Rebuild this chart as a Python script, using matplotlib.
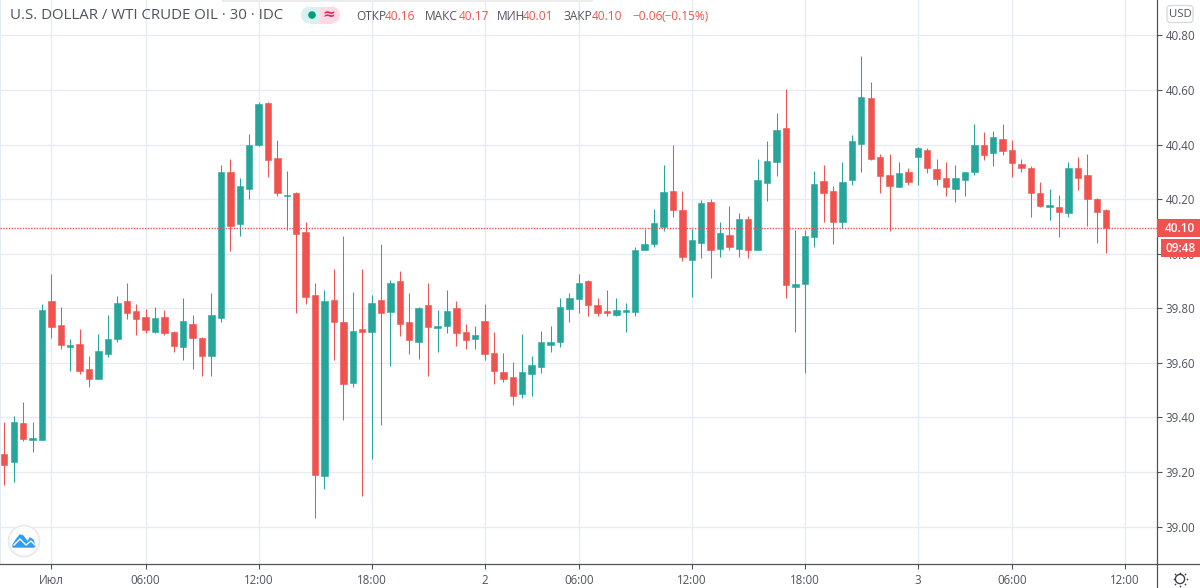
import matplotlib
matplotlib.use('Agg')
import matplotlib.pyplot as plt
from matplotlib.patches import Circle, FancyBboxPatch, Polygon, Rectangle, Wedge

plt.rcParams['font.family'] = ['Open Sans', 'DejaVu Sans']

opens = [39.266, 39.238, 39.379, 39.316, 39.316, 39.826, 39.740, 39.658, 39.669, 39.579,
         39.540, 39.633, 39.687, 39.826, 39.789, 39.768, 39.715, 39.768, 39.712, 39.658,
         39.743, 39.690, 39.626, 39.766, 40.301, 40.110, 40.238, 40.398, 40.551, 40.351,
         40.213, 40.222, 40.080, 39.850, 39.186, 39.830, 39.750, 39.527, 39.724, 39.715,
         39.830, 39.787, 39.900, 39.750, 39.677, 39.811, 39.727, 39.737, 39.801, 39.715,
         39.688, 39.754, 39.637, 39.568, 39.550, 39.486, 39.558, 39.586, 39.666, 39.677,
         39.798, 39.834, 39.900, 39.812, 39.790, 39.776, 39.788, 39.788, 40.012, 40.035,
         40.098, 40.229, 40.160, 39.977, 40.040, 40.189, 40.016, 40.068, 40.016, 40.129,
         40.012, 40.260, 40.338, 40.461, 39.877, 39.888, 40.060, 40.266, 40.230, 40.117,
         40.271, 40.403, 40.572, 40.355, 40.290, 40.246, 40.300, 40.353, 40.379, 40.311,
         40.277, 40.239, 40.271, 40.299, 40.400, 40.371, 40.422, 40.379, 40.329, 40.315,
         40.223, 40.171, 40.172, 40.149, 40.315, 40.287, 40.201, 40.161]
highs = [39.383, 39.406, 39.455, 39.383, 39.816, 39.926, 39.804, 39.687, 39.726, 39.626,
         39.705, 39.776, 39.845, 39.894, 39.816, 39.796, 39.804, 39.794, 39.716, 39.837,
         39.776, 39.694, 39.855, 40.325, 40.347, 40.277, 40.438, 40.556, 40.556, 40.416,
         40.305, 40.227, 40.117, 39.893, 39.866, 39.944, 40.066, 39.861, 39.944, 39.850,
         40.037, 39.905, 39.938, 39.855, 39.805, 39.893, 39.794, 39.866, 39.827, 39.743,
         39.737, 39.816, 39.712, 39.637, 39.604, 39.705, 39.626, 39.716, 39.737, 39.837,
         39.855, 39.926, 39.904, 39.837, 39.866, 39.837, 39.818, 40.026, 40.092, 40.165,
         40.325, 40.398, 40.229, 40.092, 40.197, 40.200, 40.118, 40.175, 40.148, 40.137,
         40.347, 40.415, 40.516, 40.605, 40.088, 40.088, 40.305, 40.326, 40.249, 40.337,
         40.437, 40.726, 40.629, 40.366, 40.366, 40.337, 40.315, 40.390, 40.387, 40.348,
         40.337, 40.326, 40.298, 40.476, 40.448, 40.451, 40.476, 40.417, 40.348, 40.322,
         40.263, 40.238, 40.216, 40.337, 40.355, 40.366, 40.204, 40.165]
lows = [39.151, 39.162, 39.312, 39.275, 39.316, 39.690, 39.651, 39.572, 39.561, 39.512,
        39.540, 39.622, 39.677, 39.761, 39.701, 39.711, 39.711, 39.702, 39.640, 39.611,
        39.576, 39.552, 39.552, 39.751, 40.011, 40.066, 40.200, 40.395, 40.283, 40.212,
        40.088, 39.784, 39.816, 39.030, 39.138, 39.611, 39.391, 39.513, 39.113, 39.249,
        39.373, 39.590, 39.700, 39.633, 39.615, 39.552, 39.641, 39.709, 39.662, 39.651,
        39.651, 39.611, 39.523, 39.529, 39.447, 39.473, 39.479, 39.562, 39.641, 39.660,
        39.751, 39.784, 39.773, 39.773, 39.773, 39.773, 39.712, 39.773, 40.012, 40.024,
        40.083, 40.133, 39.973, 39.841, 39.983, 39.911, 39.989, 40.012, 39.989, 39.983,
        40.012, 40.194, 40.285, 39.838, 39.713, 39.563, 40.023, 40.116, 40.034, 40.093,
        40.252, 40.301, 40.344, 40.224, 40.085, 40.246, 40.252, 40.252, 40.295, 40.252,
        40.213, 40.188, 40.213, 40.288, 40.344, 40.323, 40.362, 40.283, 40.301, 40.134,
        40.170, 40.124, 40.063, 40.135, 40.234, 40.102, 40.041, 40.002]
closes = [39.227, 39.383, 39.322, 39.325, 39.794, 39.733, 39.666, 39.665, 39.572, 39.541,
          39.644, 39.687, 39.820, 39.784, 39.761, 39.722, 39.765, 39.708, 39.662, 39.754,
          39.691, 39.626, 39.776, 40.301, 40.100, 40.249, 40.398, 40.548, 40.344, 40.222,
          40.216, 40.073, 39.840, 39.190, 39.828, 39.751, 39.523, 39.718, 39.712, 39.818,
          39.784, 39.893, 39.741, 39.684, 39.801, 39.733, 39.737, 39.790, 39.709, 39.684,
          39.701, 39.633, 39.572, 39.540, 39.479, 39.565, 39.593, 39.676, 39.676, 39.805,
          39.839, 39.893, 39.812, 39.784, 39.783, 39.794, 39.794, 40.014, 40.035, 40.111,
          40.226, 40.162, 39.987, 40.050, 40.186, 40.012, 40.076, 40.023, 40.129, 40.012,
          40.272, 40.339, 40.454, 39.884, 39.889, 40.066, 40.255, 40.224, 40.115, 40.262,
          40.415, 40.576, 40.348, 40.285, 40.250, 40.296, 40.263, 40.388, 40.313, 40.274,
          40.246, 40.277, 40.298, 40.398, 40.363, 40.427, 40.378, 40.334, 40.313, 40.224,
          40.174, 40.177, 40.152, 40.315, 40.279, 40.202, 40.152, 40.093]

time_ticks = [5, 15, 27, 39, 51, 61, 73, 85, 97, 107, 119]
time_labels = ['Июл', '06:00', '12:00', '18:00', '2', '06:00', '12:00', '18:00', '3', '06:00', '12:00']
price_ticks = [39.0, 39.2, 39.4, 39.6, 39.8, 40.0, 40.2, 40.4, 40.6, 40.8]
last_price = 40.095

up_color = '#26a69a'
down_color = '#ef5350'
text_color = '#50535e'
grid_color = '#e6ecf3'

fig = plt.figure(figsize=(12, 5.88), dpi=100, facecolor='white')
ax = fig.add_axes([0, 1 - 564 / 588, 1157 / 1200, 564 / 588])
ax.set_xlim(-0.456, 122.4)
ax.set_ylim(38.863, 40.93)

ax.set_xticks(time_ticks)
ax.set_xticklabels(time_labels)
ax.set_yticks(price_ticks)
ax.set_yticklabels(['%.2f' % p for p in price_ticks])
ax.yaxis.tick_right()
ax.tick_params(axis='both', length=3.5, width=0.8, color=text_color, labelcolor=text_color, labelsize=8.3)
ax.tick_params(axis='x', pad=4)
ax.tick_params(axis='y', pad=2.5)
ax.grid(True, color=grid_color, linewidth=1.0)
ax.set_axisbelow(True)
ax.spines['top'].set_visible(False)
ax.spines['left'].set_color(grid_color)
ax.spines['left'].set_linewidth(1.5)
ax.spines['right'].set_color(text_color)
ax.spines['bottom'].set_color(text_color)
ax.spines['right'].set_linewidth(0.9)
ax.spines['bottom'].set_linewidth(0.9)

for i in range(len(opens)):
    col = up_color if closes[i] >= opens[i] else down_color
    ax.vlines(i, lows[i], highs[i], color=col, linewidth=0.75, zorder=3)
    ax.bar(i, abs(closes[i] - opens[i]), bottom=min(opens[i], closes[i]), width=0.68,
           color=col, edgecolor=col, linewidth=0.4, zorder=4)

ax.axhline(last_price, color=down_color, linewidth=1.0, linestyle=(0, (1, 1)), zorder=5)

# everything around the chart is placed in screen pixels
ov = fig.add_axes([0, 0, 1, 1], facecolor='none')
ov.set_xlim(0, 1200)
ov.set_ylim(588, 0)
ov.axis('off')

ov.plot([1157, 1157], [564, 588], color=text_color, linewidth=0.9)
ov.plot([1157, 1200], [564, 564], color=text_color, linewidth=0.9)

# toolbar shadow along the top edge
ov.add_patch(Rectangle((222, 0), 371, 1.5, fc='#ececec', ec='none'))

ov.text(10, 15.5, 'U.S. DOLLAR / WTI CRUDE OIL · 30 · IDC', color=text_color, fontsize=10.85,
        va='center', ha='left')

# status badge
ov.add_patch(Rectangle((309.5, 6.5), 10.5, 17, fc='#d9f1ee', ec='none'))
ov.add_patch(Wedge((309.5, 15), 8.5, 90, 270, fc='#d9f1ee', ec='none'))
ov.add_patch(Rectangle((320, 6.5), 11.5, 17, fc='#fcdbe5', ec='none'))
ov.add_patch(Wedge((331.5, 15), 8.5, -90, 90, fc='#fcdbe5', ec='none'))
ov.add_patch(Circle((312, 15), 3.8, fc='#089981', ec='none', zorder=3))
ov.text(329, 14.5, '≈', color='#f0245e', fontsize=11, fontweight='bold', va='center', ha='center', family='DejaVu Sans')

# ohlc line
parts = [(356, 'ОТКР', text_color), (385, '40.16', down_color), (425, 'МАКС', text_color), (459, '40.17', down_color),
         (497, 'МИН', text_color), (523, '40.01', down_color), (563, 'ЗАКР', text_color), (592, '40.10', down_color),
         (632, '−0.06', down_color), (661, '(−0.15%)', down_color)]
for px, s, c in parts:
    ov.text(px, 16, s, color=c, fontsize=8.6, va='center', ha='left')

# currency box
ov.add_patch(FancyBboxPatch((1167, 5.5), 26, 17, boxstyle='round,pad=0,rounding_size=3', fc='white', ec='#d6d8de', linewidth=0.9))
ov.text(1180, 14.5, 'USD', color=text_color, fontsize=8.2, va='center', ha='center')

# last price tags
ov.add_patch(Rectangle((1157, 219), 43, 18, fc=down_color, ec='none', zorder=5))
ov.text(1165, 228.5, '40.10', color='white', fontsize=8.5, fontweight='semibold', va='center', ha='left', zorder=6)
ov.add_patch(Rectangle((1161, 239), 39, 18, fc=down_color, ec='none', zorder=5))
ov.text(1165, 248.5, '09:48', color='white', fontsize=8.5, fontweight='semibold', va='center', ha='left', zorder=6)

# logo
ov.add_patch(Circle((24, 541), 15.5, fc='white', ec='#e6e8ec', linewidth=1.2, zorder=5))
cloud_x = [13, 16, 20, 23, 26, 28, 30, 33, 35, 34, 13]
cloud_y = [545, 540, 535, 536, 540, 542, 538, 540, 546, 547, 547]
ov.add_patch(Polygon(list(zip(cloud_x, cloud_y)), closed=True, fc='#2e9ef5', ec='#2e9ef5', joinstyle='round', linewidth=1, zorder=6))
ov.plot([14, 20, 26, 31, 35], [545, 539, 545, 541, 545], color='white', linewidth=1, zorder=7)

# settings gear
ov.add_patch(Circle((1180, 579), 4.6, fc='none', ec='#3c3f4a', linewidth=1, zorder=5))
gear_x = [1180, 1186.5, 1180, 1173.5, 1175.4, 1184.6, 1184.6, 1175.4]
gear_y = [572.5, 579, 585.5, 579, 574.4, 574.4, 583.6, 583.6]
ov.scatter(gear_x, gear_y, s=1.5, color='#3c3f4a', linewidths=0, zorder=5)

fig.savefig('out.png', dpi=100, facecolor='white')
